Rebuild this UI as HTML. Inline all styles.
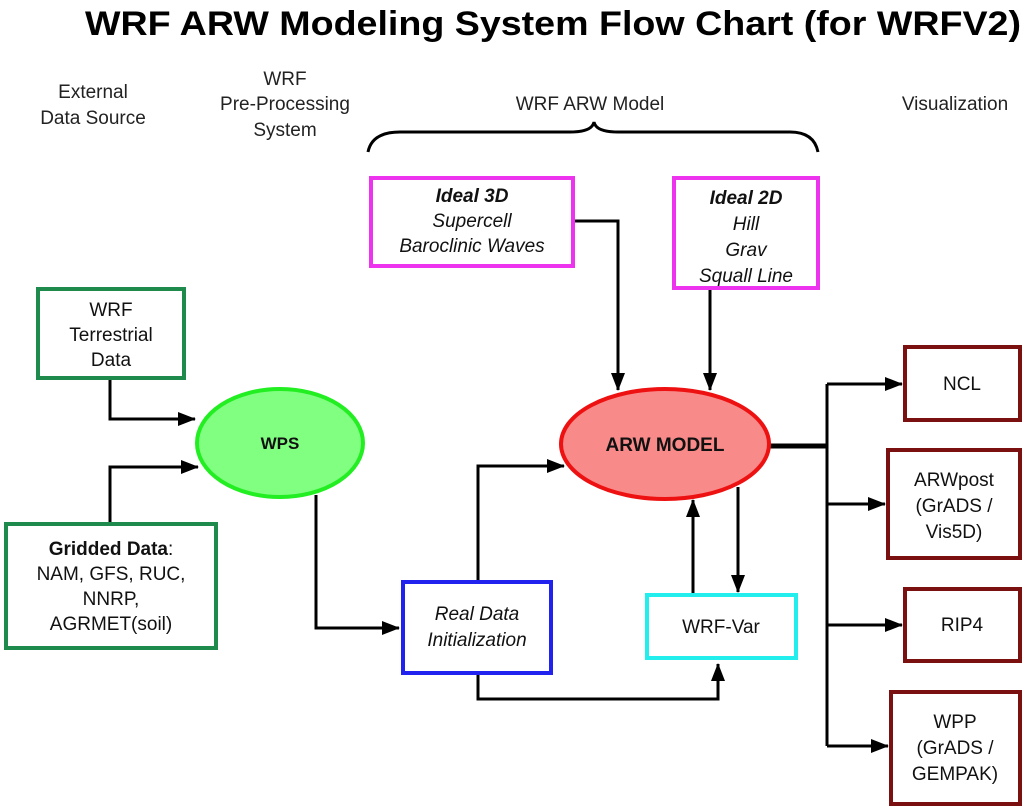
<!DOCTYPE html>
<html><head><meta charset="utf-8"><style>
html,body{margin:0;padding:0;background:#fff;}
svg text{font-family:"Liberation Sans",Arial,sans-serif;}
</style></head><body>
<svg width="1024" height="806" viewBox="0 0 1024 806" xmlns="http://www.w3.org/2000/svg">
<defs>
<marker id="b" markerWidth="18" markerHeight="14" refX="17" refY="7" orient="auto" markerUnits="userSpaceOnUse">
<path d="M0,0 L18,7 L0,14 z" fill="#000"/></marker>
</defs>
<text x="85" y="35" font-size="34" font-weight="bold" textLength="936" lengthAdjust="spacingAndGlyphs">WRF ARW Modeling System Flow Chart (for WRFV2)</text>
<g font-size="19" text-anchor="middle" fill="#222">
<text x="93" y="98">External</text><text x="93" y="124">Data Source</text>
<text x="285" y="85">WRF</text><text x="285" y="110">Pre-Processing</text><text x="285" y="136">System</text>
<text x="590" y="110">WRF ARW Model</text>
<text x="955" y="110">Visualization</text>
</g>
<path d="M368,152 Q372,132 400,132 L570,132 Q592,132 594,122 Q596,132 618,132 L790,132 Q814,132 818,152" fill="none" stroke="#000" stroke-width="3"/>
<g fill="none" stroke="#000" stroke-width="3">
<path d="M110,380 V419 H195" marker-end="url(#b)"/>
<path d="M110,522 V467 H198" marker-end="url(#b)"/>
<path d="M316,495 V628 H399" marker-end="url(#b)"/>
<path d="M478,580 V466 H564" marker-end="url(#b)"/>
<path d="M478,675 V699 H718 V664" marker-end="url(#b)"/>
<path d="M575,221 H618 V390" marker-end="url(#b)"/>
<path d="M710,290 V390" marker-end="url(#b)"/>
<path d="M738,487 V592" marker-end="url(#b)"/>
<path d="M693,593 V500" marker-end="url(#b)"/>
<path d="M770,446 H827" stroke-width="5"/>
<path d="M827,384 V746"/>
<path d="M827,384 H902" marker-end="url(#b)"/>
<path d="M827,504 H885" marker-end="url(#b)"/>
<path d="M827,625 H902" marker-end="url(#b)"/>
<path d="M827,746 H888" marker-end="url(#b)"/>
</g>
<g stroke-width="4" fill="#fff">
<rect x="371" y="178" width="202" height="88" stroke="#ee33ee"/>
<rect x="674" y="178" width="144" height="110" stroke="#ee33ee"/>
<rect x="38" y="289" width="146" height="89" stroke="#1e8a4c"/>
<rect x="6" y="524" width="210" height="124" stroke="#1e8a4c"/>
<rect x="403" y="582" width="148" height="91" stroke="#2222ee"/>
<rect x="647" y="595" width="149" height="63" stroke="#22eeee"/>
<rect x="905" y="347" width="115" height="73" stroke="#7a1010"/>
<rect x="888" y="450" width="132" height="108" stroke="#7a1010"/>
<rect x="905" y="589" width="115" height="72" stroke="#7a1010"/>
<rect x="891" y="692" width="129" height="112" stroke="#7a1010"/>
</g>
<ellipse cx="280" cy="443" rx="83" ry="54" fill="#80ff80" stroke="#22ee22" stroke-width="4"/>
<ellipse cx="665" cy="444" rx="104" ry="55" fill="#f98a8a" stroke="#ee1111" stroke-width="4"/>
<g font-size="19" text-anchor="middle" fill="#111">
<text x="472" y="202" font-weight="bold" font-style="italic">Ideal 3D</text>
<text x="472" y="227" font-style="italic">Supercell</text>
<text x="472" y="252" font-style="italic">Baroclinic Waves</text>
<text x="746" y="204" font-weight="bold" font-style="italic">Ideal 2D</text>
<text x="746" y="230" font-style="italic">Hill</text>
<text x="746" y="256" font-style="italic">Grav</text>
<text x="746" y="282" font-style="italic">Squall Line</text>
<text x="111" y="316">WRF</text><text x="111" y="341">Terrestrial</text><text x="111" y="366">Data</text>
<text x="111" y="555"><tspan font-weight="bold">Gridded Data</tspan>:</text>
<text x="111" y="580">NAM, GFS, RUC,</text><text x="111" y="605">NNRP,</text><text x="111" y="630">AGRMET(soil)</text>
<text x="280" y="449" font-weight="bold" font-size="17">WPS</text>
<text x="665" y="451" font-weight="bold">ARW MODEL</text>
<text x="477" y="620" font-style="italic">Real Data</text><text x="477" y="646" font-style="italic">Initialization</text>
<text x="721" y="633">WRF-Var</text>
<text x="962" y="390">NCL</text>
<text x="954" y="486">ARWpost</text><text x="954" y="512">(GrADS /</text><text x="954" y="538">Vis5D)</text>
<text x="962" y="631">RIP4</text>
<text x="955" y="728">WPP</text><text x="955" y="754">(GrADS /</text><text x="955" y="780">GEMPAK)</text>
</g>
</svg>
</body></html>
